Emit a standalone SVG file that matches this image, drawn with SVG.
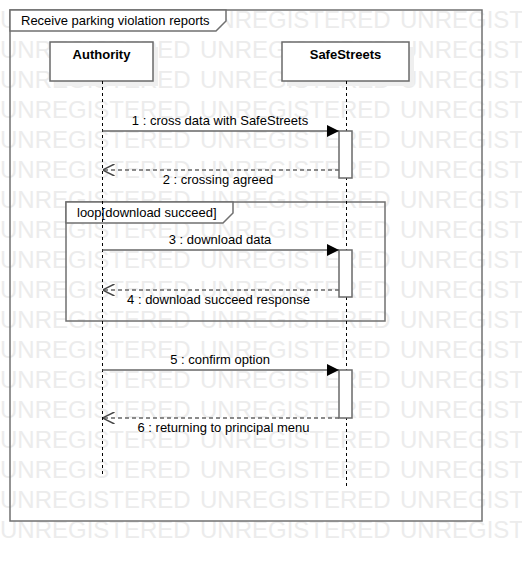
<svg xmlns="http://www.w3.org/2000/svg" width="522" height="562" viewBox="0 0 522 562">
<defs>
<style>
.wm{font-family:"Liberation Sans",Arial,sans-serif;font-size:24px;fill:#ececec}
.t{font-family:"Liberation Sans",Arial,sans-serif;font-size:13px;fill:#000}
.b{font-weight:bold}
.frame{fill:none;stroke:#707070;stroke-width:1.5}
.tab{fill:#fff;stroke:#707070;stroke-width:1.5}
.box{fill:#fff;stroke:#6a6a6a;stroke-width:1.5}
.shadow{fill:#efefef}
.life{stroke:#000;stroke-width:1;stroke-dasharray:3,3;fill:none}
.msg{stroke:#666;stroke-width:1.5;fill:none}
.ret{stroke:#666;stroke-width:1.5;stroke-dasharray:4,3;fill:none}
.act{fill:#fff;stroke:#6a6a6a;stroke-width:1.5}
</style>
<marker id="filled" markerWidth="12" markerHeight="12" refX="10" refY="5" orient="auto" markerUnits="userSpaceOnUse" viewBox="0 0 10 10">
<path d="M0,0 L10,5 L0,10 Z" fill="#000"/>
</marker>
<marker id="open" markerWidth="12" markerHeight="12" refX="10" refY="5" orient="auto" markerUnits="userSpaceOnUse" viewBox="0 0 10 10">
<path d="M0,0 L10,5 L0,10" fill="none" stroke="#444" stroke-width="1.2"/>
</marker>
</defs>
<rect width="522" height="562" fill="#fff"/>
<g id="watermark">
<text class="wm" x="0" y="28">UNREGISTERED</text><text class="wm" x="200" y="28">UNREGISTERED</text><text class="wm" x="400" y="28">UNREGISTERED</text>
<text class="wm" x="0" y="58">UNREGISTERED</text><text class="wm" x="200" y="58">UNREGISTERED</text><text class="wm" x="400" y="58">UNREGISTERED</text>
<text class="wm" x="0" y="88">UNREGISTERED</text><text class="wm" x="200" y="88">UNREGISTERED</text><text class="wm" x="400" y="88">UNREGISTERED</text>
<text class="wm" x="0" y="118">UNREGISTERED</text><text class="wm" x="200" y="118">UNREGISTERED</text><text class="wm" x="400" y="118">UNREGISTERED</text>
<text class="wm" x="0" y="148">UNREGISTERED</text><text class="wm" x="200" y="148">UNREGISTERED</text><text class="wm" x="400" y="148">UNREGISTERED</text>
<text class="wm" x="0" y="178">UNREGISTERED</text><text class="wm" x="200" y="178">UNREGISTERED</text><text class="wm" x="400" y="178">UNREGISTERED</text>
<text class="wm" x="0" y="208">UNREGISTERED</text><text class="wm" x="200" y="208">UNREGISTERED</text><text class="wm" x="400" y="208">UNREGISTERED</text>
<text class="wm" x="0" y="238">UNREGISTERED</text><text class="wm" x="200" y="238">UNREGISTERED</text><text class="wm" x="400" y="238">UNREGISTERED</text>
<text class="wm" x="0" y="268">UNREGISTERED</text><text class="wm" x="200" y="268">UNREGISTERED</text><text class="wm" x="400" y="268">UNREGISTERED</text>
<text class="wm" x="0" y="298">UNREGISTERED</text><text class="wm" x="200" y="298">UNREGISTERED</text><text class="wm" x="400" y="298">UNREGISTERED</text>
<text class="wm" x="0" y="328">UNREGISTERED</text><text class="wm" x="200" y="328">UNREGISTERED</text><text class="wm" x="400" y="328">UNREGISTERED</text>
<text class="wm" x="0" y="358">UNREGISTERED</text><text class="wm" x="200" y="358">UNREGISTERED</text><text class="wm" x="400" y="358">UNREGISTERED</text>
<text class="wm" x="0" y="388">UNREGISTERED</text><text class="wm" x="200" y="388">UNREGISTERED</text><text class="wm" x="400" y="388">UNREGISTERED</text>
<text class="wm" x="0" y="418">UNREGISTERED</text><text class="wm" x="200" y="418">UNREGISTERED</text><text class="wm" x="400" y="418">UNREGISTERED</text>
<text class="wm" x="0" y="448">UNREGISTERED</text><text class="wm" x="200" y="448">UNREGISTERED</text><text class="wm" x="400" y="448">UNREGISTERED</text>
<text class="wm" x="0" y="478">UNREGISTERED</text><text class="wm" x="200" y="478">UNREGISTERED</text><text class="wm" x="400" y="478">UNREGISTERED</text>
<text class="wm" x="0" y="508">UNREGISTERED</text><text class="wm" x="200" y="508">UNREGISTERED</text><text class="wm" x="400" y="508">UNREGISTERED</text>
<text class="wm" x="0" y="538">UNREGISTERED</text><text class="wm" x="200" y="538">UNREGISTERED</text><text class="wm" x="400" y="538">UNREGISTERED</text>
</g>
<g id="frame">
<rect class="frame" x="10" y="10" width="472" height="511"/>
<path class="tab" d="M10,10 L226,10 L226,21 L216,31 L10,31 Z"/>
<text class="t" x="21" y="25">Receive parking violation reports</text>
</g>
<g id="loop">
<rect class="frame" x="66" y="202" width="319" height="119"/>
<path class="tab" d="M66,202 L233,202 L233,213 L223,223 L66,223 Z"/>
<text class="t" x="77" y="217">loop[download succeed]</text>
</g>
<g id="authority">
<rect class="shadow" x="55" y="47" width="103" height="39"/>
<rect class="box" x="50" y="42" width="103" height="39"/>
<text class="t b" x="101.5" y="59" text-anchor="middle">Authority</text>
<line class="life" x1="102.5" y1="81" x2="102.5" y2="474"/>
</g>
<g id="safestreets">
<rect class="shadow" x="287" y="47" width="127" height="39"/>
<rect class="box" x="282" y="42" width="127" height="39"/>
<text class="t b" x="345.5" y="59" text-anchor="middle">SafeStreets</text>
<line class="life" x1="346.5" y1="81" x2="346.5" y2="487"/>
<rect class="act" x="339" y="131" width="13" height="47"/>
<rect class="act" x="339" y="250" width="13" height="47"/>
<rect class="act" x="339" y="370" width="13" height="48"/>
</g>
<g id="connectors">
<line class="msg" x1="102.5" y1="131" x2="339" y2="131" marker-end="url(#filled)"/>
<text class="t" x="220" y="125" text-anchor="middle">1 : cross data with SafeStreets</text>
<line class="ret" x1="339" y1="170" x2="102.5" y2="170" marker-end="url(#open)"/>
<text class="t" x="218" y="184" text-anchor="middle">2 : crossing agreed</text>
<line class="msg" x1="102.5" y1="250" x2="339" y2="250" marker-end="url(#filled)"/>
<text class="t" x="220" y="244" text-anchor="middle">3 : download data</text>
<line class="ret" x1="339" y1="290" x2="102.5" y2="290" marker-end="url(#open)"/>
<text class="t" x="218.5" y="304" text-anchor="middle">4 : download succeed response</text>
<line class="msg" x1="102.5" y1="370" x2="339" y2="370" marker-end="url(#filled)"/>
<text class="t" x="220" y="364" text-anchor="middle">5 : confirm option</text>
<line class="ret" x1="339" y1="418" x2="102.5" y2="418" marker-end="url(#open)"/>
<text class="t" x="223.5" y="432" text-anchor="middle">6 : returning to principal menu</text>
</g>
</svg>
